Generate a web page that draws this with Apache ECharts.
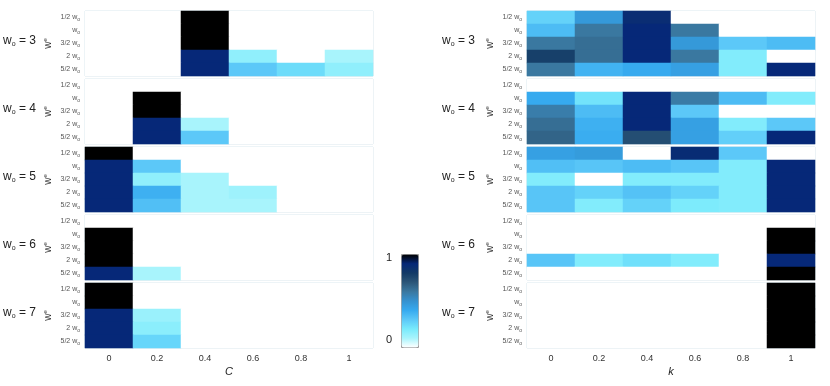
<!DOCTYPE html>
<html>
<head>
<meta charset="utf-8">
<script src="https://cdn.jsdelivr.net/npm/echarts@6/dist/echarts.min.js"></script>
<style>
    html, body { margin: 0; padding: 0; background: #fff; }
    #chart { width: 830px; height: 386px; }
</style>
</head>
<body>
<div id="chart"></div>
<script>
// x categories (C on the left, k on the right)
const xCats = ['0', '0.2', '0.4', '0.6', '0.8', '1'];
// rows, top to bottom (subscript o is added by the formatter)
const rowCats = ['1/2 w', 'w', '3/2 w', '2 w', '5/2 w'];
const woValues = ['3', '4', '5', '6', '7'];
const colorbarTicks = ['0', '1'];

// left column: C, one row per w_e, one value per C
const cWo3 = [
    [0, 0, 1, 0, 0, 0],
    [0, 0, 1, 0, 0, 0],
    [0, 0, 1, 0, 0, 0],
    [0, 0, 0.9, 0.15, 0, 0.1],
    [0, 0, 0.9, 0.3, 0.24, 0.15]
];
const cWo4 = [
    [0, 0, 0, 0, 0, 0],
    [0, 1, 0, 0, 0, 0],
    [0, 1, 0, 0, 0, 0],
    [0, 0.9, 0.1, 0, 0, 0],
    [0, 0.9, 0.3, 0, 0, 0]
];
const cWo5 = [
    [1, 0, 0, 0, 0, 0],
    [0.9, 0.3, 0, 0, 0, 0],
    [0.9, 0.15, 0.1, 0, 0, 0],
    [0.9, 0.38, 0.1, 0.12, 0, 0],
    [0.9, 0.33, 0.1, 0.1, 0, 0]
];
const cWo6 = [
    [0, 0, 0, 0, 0, 0],
    [1, 0, 0, 0, 0, 0],
    [1, 0, 0, 0, 0, 0],
    [1, 0, 0, 0, 0, 0],
    [0.9, 0.1, 0, 0, 0, 0]
];
const cWo7 = [
    [1, 0, 0, 0, 0, 0],
    [1, 0, 0, 0, 0, 0],
    [0.9, 0.13, 0, 0, 0, 0],
    [0.9, 0.16, 0, 0, 0, 0],
    [0.9, 0.26, 0, 0, 0, 0]
];

// right column: k
const kWo3 = [
    [0.27, 0.47, 0.87, 0, 0, 0],
    [0.34, 0.6, 0.9, 0.6, 0, 0],
    [0.6, 0.63, 0.9, 0.47, 0.3, 0.34],
    [0.78, 0.63, 0.9, 0.6, 0.18, 0],
    [0.6, 0.37, 0.4, 0.44, 0.18, 0.9]
];
const kWo4 = [
    [0, 0, 0, 0, 0, 0],
    [0.4, 0.22, 0.9, 0.59, 0.34, 0.18],
    [0.58, 0.34, 0.9, 0.3, 0, 0],
    [0.63, 0.38, 0.9, 0.44, 0.18, 0.3],
    [0.66, 0.39, 0.73, 0.44, 0.28, 0.9]
];
const kWo5 = [
    [0.44, 0.46, 0, 0.88, 0.3, 0],
    [0.33, 0.31, 0.34, 0.31, 0.18, 0.9],
    [0.18, 0, 0.18, 0.18, 0.18, 0.9],
    [0.31, 0.27, 0.32, 0.27, 0.18, 0.9],
    [0.31, 0.18, 0.27, 0.19, 0.18, 0.9]
];
const kWo6 = [
    [0, 0, 0, 0, 0, 0],
    [0, 0, 0, 0, 0, 1],
    [0, 0, 0, 0, 0, 1],
    [0.31, 0.18, 0.23, 0.18, 0, 0.9],
    [0, 0, 0, 0, 0, 1]
];
const kWo7 = [
    [0, 0, 0, 0, 0, 1],
    [0, 0, 0, 0, 0, 1],
    [0, 0, 0, 0, 0, 1],
    [0, 0, 0, 0, 0, 1],
    [0, 0, 0, 0, 0, 1]
];

const leftPanels = [cWo3, cWo4, cWo5, cWo6, cWo7];
const rightPanels = [kWo3, kWo4, kWo5, kWo6, kWo7];

window.onload = function () {
    let chart = echarts.init(document.getElementById('chart'), null, { renderer: 'canvas' });

    // whole-pixel rows (13 px) so neighbouring cells don't show seams
    let panelTops = [11, 79, 147, 215, 283];
    let panelHeight = 65;
    let frameColor = '#cfe2ea';
    let subRich = {
        s: { fontSize: 5, color: '#555', padding: [4, 0, 0, 0] }
    };

    let grids = [], xAxes = [], yAxes = [], series = [], titles = [];

    function addPanel(values, left, width, top, isBottom, xName, woLeft, wo) {
        let gi = grids.length;
        grids.push({
            left: left, top: top, width: width, height: panelHeight,
            show: true, borderColor: frameColor, borderWidth: 1, backgroundColor: '#fff'
        });
        // bottom x axis with labels only on the last panel
        xAxes.push({
            type: 'category', gridIndex: gi, data: xCats, position: 'bottom',
            axisLine: { show: false },
            axisTick: { show: true, inside: true, length: 2, alignWithLabel: true, lineStyle: { color: frameColor } },
            axisLabel: { show: isBottom, fontSize: 9, color: '#333', margin: 6, fontFamily: 'Liberation Sans' },
            splitLine: { show: false },
            name: isBottom ? xName : '',
            nameLocation: 'middle', nameGap: 18,
            nameTextStyle: { fontSize: 11, fontStyle: 'italic', color: '#222', fontFamily: 'Liberation Sans' }
        });
        // top axis only for the inner tick marks
        xAxes.push({
            type: 'category', gridIndex: gi, data: xCats, position: 'top',
            axisLine: { show: false },
            axisTick: { show: true, inside: true, length: 2, alignWithLabel: true, lineStyle: { color: frameColor } },
            axisLabel: { show: false }
        });
        yAxes.push({
            type: 'category', gridIndex: gi, data: rowCats, inverse: true, position: 'left',
            axisLine: { show: false },
            axisTick: { show: true, inside: true, length: 2, alignWithLabel: true, lineStyle: { color: frameColor } },
            axisLabel: {
                show: true, fontSize: 7, color: '#555', margin: 5, fontFamily: 'Liberation Sans',
                formatter: (v) => v + '{s|o}',
                rich: subRich
            },
            name: 'w{e|e}',
            nameLocation: 'middle', nameRotate: 90, nameGap: 31,
            nameTextStyle: {
                fontSize: 10, color: '#333', fontFamily: 'Liberation Sans',
                rich: { e: { fontSize: 6, color: '#333', padding: [0, 0, 6, 0] } }
            }
        });
        yAxes.push({
            type: 'category', gridIndex: gi, data: rowCats, inverse: true, position: 'right',
            axisLine: { show: false },
            axisTick: { show: true, inside: true, length: 2, alignWithLabel: true, lineStyle: { color: frameColor } },
            axisLabel: { show: false }
        });

        let data = [];
        for (let r = 0; r < values.length; r++) {
            for (let c = 0; c < values[r].length; c++) {
                data.push([c, r, values[r][c]]);
            }
        }
        series.push({
            type: 'heatmap',
            xAxisIndex: gi * 2,
            yAxisIndex: gi * 2,
            data: data,
            itemStyle: { borderWidth: 0 },
            emphasis: { disabled: true }
        });

        titles.push({
            text: 'w{s|o} = ' + wo,
            left: woLeft, top: top + panelHeight / 2 - 9,
            padding: 0,
            textStyle: {
                fontSize: 12, color: '#222', fontWeight: 'normal', fontFamily: 'Liberation Sans',
                rich: { s: { fontSize: 7, color: '#222', padding: [6, 0, 0, 0] } }
            }
        });
    }

    for (let i = 0; i < 5; i++) {
        addPanel(leftPanels[i], 85, 288, panelTops[i], i === 4, 'C', 3, woValues[i]);
        addPanel(rightPanels[i], 527, 288, panelTops[i], i === 4, 'k', 442, woValues[i]);
    }

    let option = {
        animation: false,
        title: titles,
        grid: grids,
        xAxis: xAxes,
        yAxis: yAxes,
        visualMap: {
            type: 'continuous',
            min: 0, max: 1,
            calculable: false,
            hoverLink: false,
            orient: 'vertical',
            left: 401, top: 254,
            itemWidth: 17, itemHeight: 93,
            padding: 0,
            text: null,
            showLabel: false,
            borderColor: '#9a9a9a', borderWidth: 1,
            inRange: {
                color: ['#ffffff', '#a8f4fc', '#78eafc', '#5cc8f8', '#36aaef', '#3592d0',
                    '#3a78a0', '#2c5678', '#123a66', '#062878', '#000000']
            }
        },
        graphic: [
            {
                type: 'text', left: 386, top: 252,
                style: { text: colorbarTicks[1], fontSize: 11, fill: '#222', fontFamily: 'Liberation Sans' }
            },
            {
                type: 'text', left: 386, top: 334,
                style: { text: colorbarTicks[0], fontSize: 11, fill: '#222', fontFamily: 'Liberation Sans' }
            }
        ],
        series: series
    };

    chart.setOption(option);
};
</script>
</body>
</html>
